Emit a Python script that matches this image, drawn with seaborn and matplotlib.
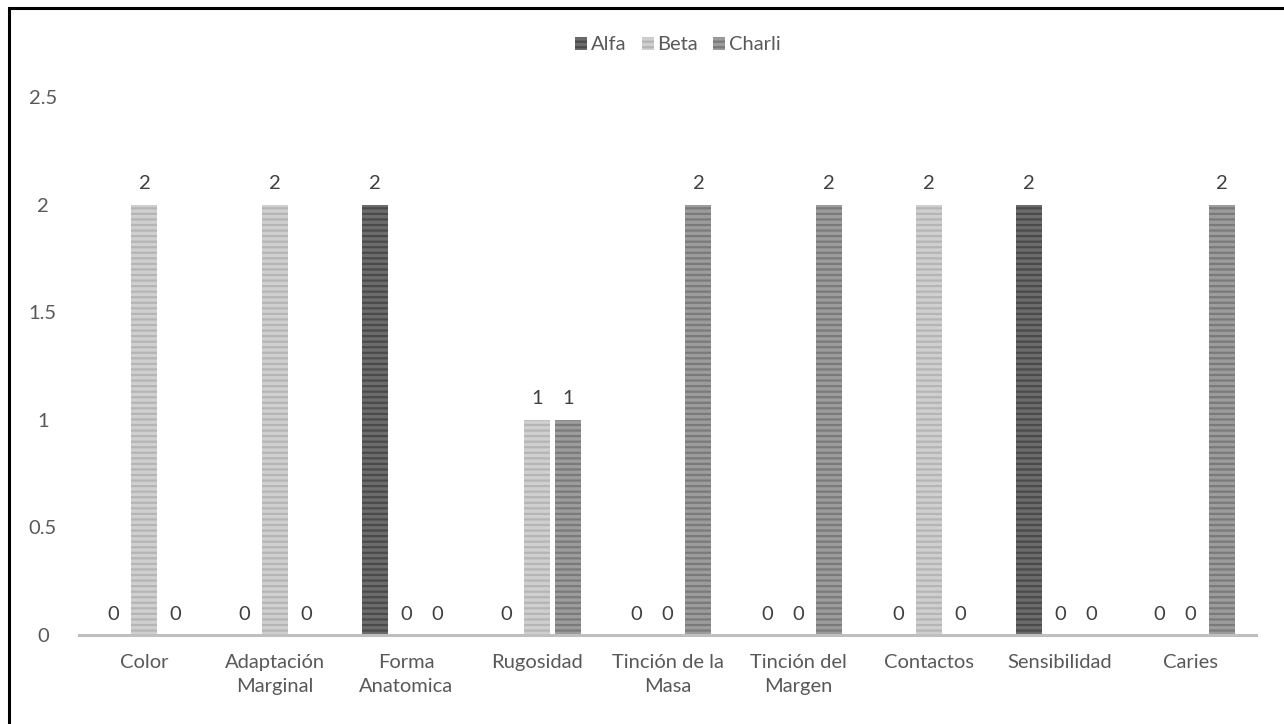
import matplotlib
matplotlib.use("Agg")
import matplotlib.pyplot as plt
from matplotlib.patches import Rectangle, Patch
import seaborn as sns
import pandas as pd

# Evaluation criteria and the count per grade
criterios = ["Color", "Adaptación\nMarginal", "Forma\nAnatomica", "Rugosidad",
             "Tinción de la\nMasa", "Tinción del\nMargen", "Contactos",
             "Sensibilidad", "Caries"]
alfa = [0, 0, 2, 0, 0, 0, 0, 2, 0]
beta = [2, 2, 0, 1, 0, 0, 2, 0, 0]
charli = [0, 0, 0, 1, 2, 2, 0, 0, 2]
grados = ["Alfa", "Beta", "Charli"]
y_ticks = [0, 0.5, 1, 1.5, 2, 2.5]
y_tick_labels = ["0", "0.5", "1", "1.5", "2", "2.5"]

face = {"Alfa": "#6c6c6c", "Beta": "#cfcfcf", "Charli": "#9c9c9c"}
stripe = {"Alfa": "#4a4a4a", "Beta": "#b5b5b5", "Charli": "#7a7a7a"}

rows = []
for g, vals in zip(grados, [alfa, beta, charli]):
    for c, v in zip(criterios, vals):
        rows.append({"criterio": c, "valor": v, "grado": g})
df = pd.DataFrame(rows)

sns.set_style("white")
plt.rcParams["font.family"] = ["Lato", "DejaVu Sans"]
plt.rcParams["hatch.linewidth"] = 1.6

FS = 14.5
fig = plt.figure(figsize=(12.84, 7.24), dpi=100)
ax = fig.add_axes([79 / 1284, 1 - 635 / 724, (1256 - 79) / 1284, (635 - 97) / 724])

sns.barplot(data=df, x="criterio", y="valor", hue="grado", order=criterios,
            hue_order=grados, palette=face, width=0.71, gap=0.16,
            legend=False, ax=ax)

text_col = "#595959"
for cont, g in zip(ax.containers, grados):
    for bar in cont:
        bar.set_facecolor(face[g])
        bar.set_edgecolor(stripe[g])
        bar.set_linewidth(0)
        bar.set_hatch("---")
    ax.bar_label(cont, labels=[f"{v:g}" for v in cont.datavalues],
                 padding=9, fontsize=FS, color="#404040")

ax.set_ylim(0, 2.5)
ax.set_xlim(-0.5, len(criterios) - 0.5)
ax.set_yticks(y_ticks)
ax.set_yticklabels(y_tick_labels)
ax.set_xlabel("")
ax.set_ylabel("")
for s in ["top", "right", "left"]:
    ax.spines[s].set_visible(False)
ax.spines["bottom"].set_color("#bfbfbf")
ax.spines["bottom"].set_linewidth(2.2)
ax.tick_params(axis="both", length=0, labelsize=FS, labelcolor=text_col)
ax.tick_params(axis="x", pad=14)
ax.tick_params(axis="y", pad=26)
for lab in ax.get_yticklabels():
    lab.set_horizontalalignment("center")
for lab in ax.get_xticklabels():
    lab.set_linespacing(1.5)
ax.grid(False)

handles = [Patch(facecolor=face[g], edgecolor=stripe[g], hatch="---", linewidth=0,
                 label=g) for g in grados]
fig.legend(handles=handles, loc="center", bbox_to_anchor=(678 / 1284, 1 - 45 / 724),
           ncol=3, frameon=False, fontsize=FS, handlelength=0.6, handleheight=0.6,
           handletextpad=0.2, columnspacing=0.75, labelcolor=text_col)

# Outer frame of the chart area
fig.patches.append(Rectangle((8.5 / 1284, -0.2), 1.5, 1 - 8.5 / 724 + 0.2,
                             transform=fig.transFigure, fill=False,
                             edgecolor="black", linewidth=2.2, zorder=10))

fig.savefig("out.png", dpi=100)
